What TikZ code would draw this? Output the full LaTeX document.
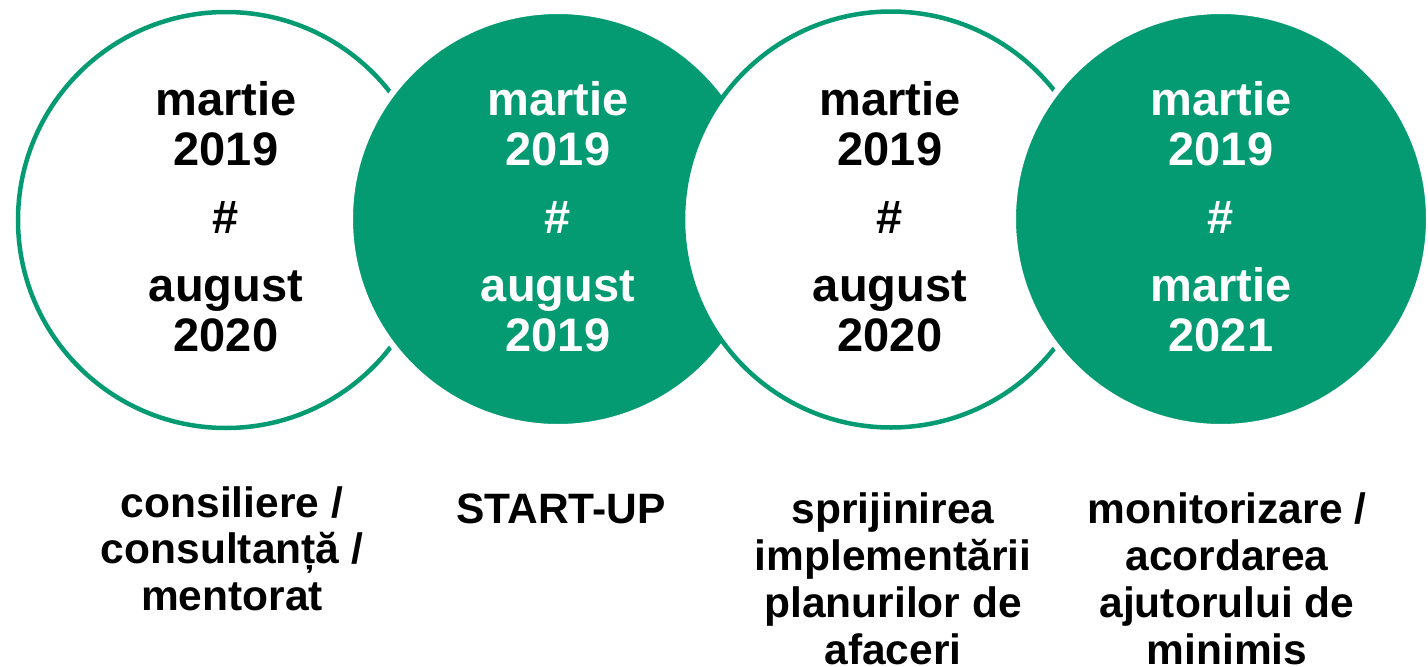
\documentclass[tikz,border=0pt]{standalone}
\usepackage{fontspec}
\setmainfont{Liberation Sans}
\definecolor{grn}{HTML}{049B73}
\begin{document}
\begin{tikzpicture}[x=1pt,y=-1pt,
  ring/.style={circle,draw=grn,line width=4.5pt,fill=white,minimum size=416pt,inner sep=0pt},
  disc/.style={circle,draw=white,line width=6pt,fill=grn,minimum size=416pt,inner sep=0pt},
  big/.style={anchor=base,inner sep=0pt,font=\fontsize{47}{50}\selectfont\bfseries},
  bigw/.style={big,text=white},
  lab/.style={anchor=base,inner sep=0pt,font=\fontsize{42.5}{47}\selectfont\bfseries}]
\useasboundingbox (0,0) rectangle (1428,667);
\fill[white] (0,0) rectangle (1428,667);
% circles
\node[ring] (c1) at (226,220) {};
\node[disc] (c2) at (558,219) {};
\node[ring] (c3) at (891,219.5) {};
\node[disc] (c4) at (1221,219) {};
% circle 1 text
\node[big] (t1a) at (226,115) {martie};
\node[big] (t1b) at (226,165) {2019};
\node[big] (t1c) at (226,233) {\#};
\node[big] (t1d) at (226,301) {august};
\node[big] (t1e) at (226,351) {2020};
% circle 2 text
\node[bigw] (t2a) at (558,115) {martie};
\node[bigw] (t2b) at (558,165) {2019};
\node[bigw] (t2c) at (558,233) {\#};
\node[bigw] (t2d) at (558,301) {august};
\node[bigw] (t2e) at (558,351) {2019};
% circle 3 text
\node[big] (t3a) at (890,115) {martie};
\node[big] (t3b) at (890,165) {2019};
\node[big] (t3c) at (890,233) {\#};
\node[big] (t3d) at (890,301) {august};
\node[big] (t3e) at (890,351) {2020};
% circle 4 text
\node[bigw] (t4a) at (1221,115) {martie};
\node[bigw] (t4b) at (1221,165) {2019};
\node[bigw] (t4c) at (1221,233) {\#};
\node[bigw] (t4d) at (1221,301) {martie};
\node[bigw] (t4e) at (1221,351) {2021};
% labels
\node[lab] (l1a) at (232,517) {consiliere /};
\node[lab] (l1b) at (232,563.5) {consultanță /};
\node[lab] (l1c) at (232,610) {mentorat};
\node[lab] (l2a) at (561,523) {START-UP};
\node[lab] (l3a) at (893,523) {sprijinirea};
\node[lab] (l3b) at (893,570) {implementării};
\node[lab] (l3c) at (893,617) {planurilor de};
\node[lab] (l3d) at (893,664) {afaceri};
\node[lab] (l4a) at (1227,523) {monitorizare /};
\node[lab] (l4b) at (1227,570) {acordarea};
\node[lab] (l4c) at (1227,617) {ajutorului de};
\node[lab] (l4d) at (1227,664) {minimis};
\end{tikzpicture}
\end{document}
